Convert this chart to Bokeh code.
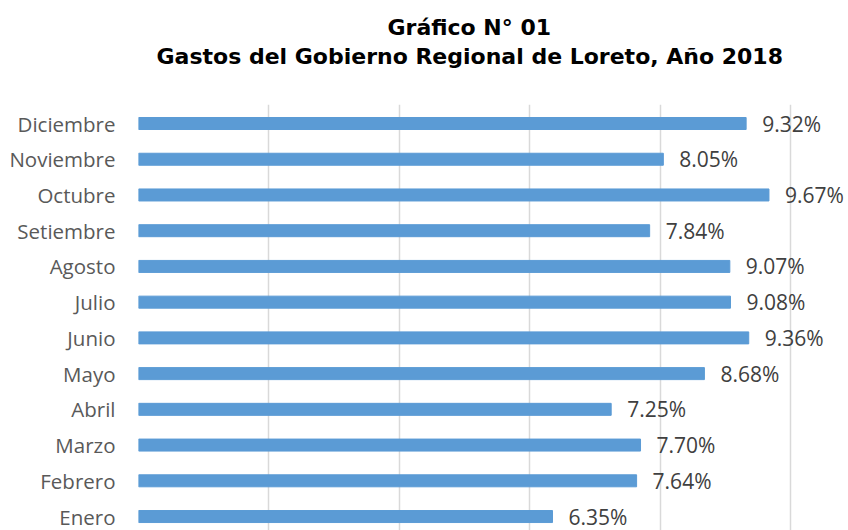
from bokeh.plotting import figure
from bokeh.models import ColumnDataSource, Range1d, FixedTicker, LabelSet, Title
from bokeh.core.properties import value
from bokeh.embed import file_html
from bokeh.resources import INLINE

months = ["Enero", "Febrero", "Marzo", "Abril", "Mayo", "Junio", "Julio",
          "Agosto", "Setiembre", "Octubre", "Noviembre", "Diciembre"]
values = [6.35, 7.64, 7.70, 7.25, 8.68, 9.36, 9.08, 9.07, 7.84, 9.67, 8.05, 9.32]
grid_ticks = [0, 2, 4, 6, 8, 10]
title_line1 = "Gráfico N° 01"
title_line2 = "Gastos del Gobierno Regional de Loreto, Año 2018"

idx = list(range(len(months)))
labels = [f"{v:.2f}%" for v in values]
src = ColumnDataSource(dict(y=idx, v=values, lab=labels))

p = figure(width=848, height=530, output_backend="svg", toolbar_location=None,
           x_range=Range1d(0, 10.89), y_range=Range1d(-0.391, 11.532),
           min_border_left=138, min_border_right=0, min_border_bottom=0,
           min_border_top=0)

p.hbar(y="y", left=0, right="v", height=0.336, source=src,
       fill_color="#5B9BD5", line_color="#5B9BD5")

p.add_layout(LabelSet(x="v", y="y", text="lab", source=src, x_offset=16,
                      text_align="left", text_baseline="middle",
                      text_font=value("Open Sans"), text_font_size="21px",
                      text_color="#404040"))

p.xaxis.visible = False
p.xgrid.ticker = FixedTicker(ticks=grid_ticks)
p.xgrid.grid_line_color = "#D9D9D9"
p.xgrid.grid_line_width = 1.5
p.ygrid.grid_line_color = None

ya = p.yaxis[0]
ya.ticker = FixedTicker(ticks=idx)
ya.major_label_overrides = {i: m for i, m in zip(idx, months)}
ya.axis_line_color = None
ya.major_tick_line_color = None
ya.minor_tick_line_color = None
ya.major_tick_out = 0
ya.major_tick_in = 0
ya.major_label_standoff = 23
ya.major_label_text_font = "Open Sans"
ya.major_label_text_font_size = "20.5px"
ya.major_label_text_color = "#595959"

p.outline_line_color = None

p.add_layout(Title(text=title_line2, align="left", offset=18,
                   text_font="DejaVu Sans", text_font_style="bold",
                   text_font_size="22px", text_color="#000000", standoff=2,
                   padding=dict(left=0, right=0, top=0, bottom=35)), "above")
p.add_layout(Title(text=title_line1, align="left", offset=249,
                   text_font="DejaVu Sans", text_font_style="bold",
                   text_font_size="22px", text_color="#000000", standoff=2,
                   padding=dict(left=0, right=0, top=11, bottom=0)), "above")

open("out.html", "w").write(file_html(p, INLINE))
